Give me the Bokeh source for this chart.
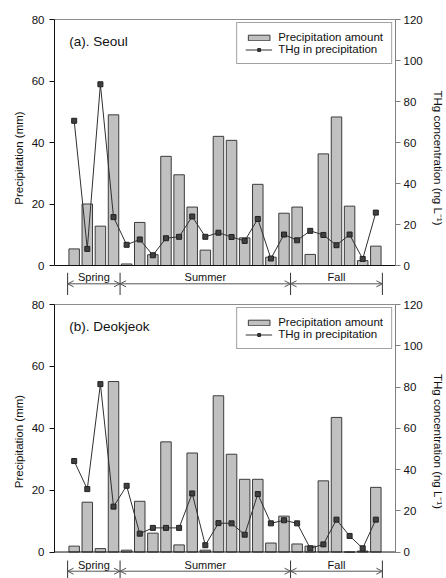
import numpy as np
from bokeh.plotting import figure
from bokeh.models import (LinearAxis, Range1d, FixedTicker, Span, Label, Arrow,
                          OpenHead, Legend, LegendItem)
from bokeh.layouts import column
from bokeh.embed import file_html
from bokeh.resources import INLINE

# ---------------- data ----------------
samples = list(range(1, 25))

seoul_precip = [5.4, 20.0, 12.8, 49.0, 0.5, 14.0, 3.5, 35.5, 29.5, 19.0, 5.0, 42.0,
                40.7, 9.0, 26.4, 2.7, 17.0, 19.0, 3.6, 36.3, 48.3, 19.3, 1.6, 6.3]
seoul_thg = [70.6, 8.1, 88.4, 23.6, 10.1, 12.7, 5.0, 13.3, 14.0, 23.9, 14.0, 16.0,
             13.9, 12.0, 22.7, 3.4, 15.1, 12.3, 16.9, 14.9, 9.9, 15.1, 3.2, 25.8]

deok_precip = [1.9, 16.1, 1.1, 55.1, 0.6, 16.4, 6.1, 35.6, 2.3, 32.0, 0.6, 50.5,
               31.6, 23.5, 23.5, 2.9, 11.6, 2.6, 1.9, 23.0, 43.5, 0.0, 0.3, 20.9]
deok_thg = [44.1, 30.5, 81.4, 22.0, 32.1, 8.9, 11.7, 11.7, 11.7, 28.4, 3.3, 14.0,
            13.9, 8.4, 28.1, 13.9, 15.4, 13.9, 1.8, 3.7, 15.7, 7.8, 1.8, 15.7]

season_names = ["Spring", "Summer", "Fall"]
season_counts = [4, 13, 7]

left_ticks = [0, 20, 40, 60, 80]
right_ticks = [0, 20, 40, 60, 80, 100, 120]

FONT = "Liberation Sans"
W = 446


def make_panel(title, precip, thg, height, border_top, y_bottom,
               v_top, v_bot, arrow_y, text_y):
    p = figure(width=W, height=height, output_backend="svg", toolbar_location=None,
               x_range=Range1d(-0.5, 25.5), y_range=Range1d(y_bottom, 80),
               x_axis_location=None, y_axis_location=None,
               min_border_left=54, min_border_right=47,
               min_border_top=border_top, min_border_bottom=0)
    p.outline_line_color = None
    p.grid.visible = False
    p.background_fill_color = "white"
    p.extra_y_ranges = {"thg": Range1d(y_bottom * 1.5, 120)}

    # left axis
    ya = LinearAxis(ticker=FixedTicker(ticks=left_ticks), bounds=(0, 80),
                    axis_label="Precipitation (mm)")
    ya.major_tick_out = 5
    ya.major_tick_in = 0
    ya.minor_tick_out = 0
    ya.minor_tick_in = 0
    ya.axis_line_color = "#111111"
    ya.major_tick_line_color = "#111111"
    ya.major_label_text_font = FONT
    ya.major_label_text_font_size = "11.5px"
    ya.major_label_text_color = "#111111"
    ya.major_label_standoff = 5
    ya.axis_label_text_font = FONT
    ya.axis_label_text_font_size = "11.5px"
    ya.axis_label_text_font_style = "normal"
    ya.axis_label_text_color = "#111111"
    ya.axis_label_standoff = 4
    p.add_layout(ya, "left")

    # right axis
    yr = LinearAxis(y_range_name="thg", ticker=FixedTicker(ticks=right_ticks),
                    bounds=(0, 120), axis_label="THg concentration (ng L\u207b\u00b9)")
    yr.major_tick_out = 5
    yr.major_tick_in = 0
    yr.minor_tick_out = 0
    yr.minor_tick_in = 0
    yr.axis_line_color = "#808080"
    yr.major_tick_line_color = "#808080"
    yr.major_label_text_font = FONT
    yr.major_label_text_font_size = "11.5px"
    yr.major_label_text_color = "#111111"
    yr.major_label_standoff = 3
    yr.axis_label_text_font = FONT
    yr.axis_label_text_font_size = "11.5px"
    yr.axis_label_text_font_style = "normal"
    yr.axis_label_text_color = "#111111"
    yr.axis_label_standoff = 6
    p.add_layout(yr, "right")

    # top frame line
    xt = LinearAxis(ticker=FixedTicker(ticks=[]))
    xt.axis_line_color = "#8c8c8c"
    xt.major_tick_out = 0
    xt.major_tick_in = 0
    xt.minor_tick_out = 0
    xt.minor_tick_in = 0
    p.add_layout(xt, "above")

    # bottom base line
    p.add_layout(Span(location=0, dimension="width", line_color="#111111", line_width=1))

    bars = p.vbar(x=samples, top=precip, width=0.8, bottom=0,
                  fill_color="#c0c0c0", line_color="#3c3c3c", line_width=1)
    line_r = p.line(samples, thg, y_range_name="thg", line_color="#303030", line_width=1)
    pts_r = p.scatter(samples, thg, y_range_name="thg", marker="square", size=5,
                      fill_color="#404040", line_color="#202020", line_width=1)

    legend = Legend(items=[LegendItem(label="Precipitation amount", renderers=[bars]),
                           LegendItem(label="THg in precipitation", renderers=[line_r, pts_r])],
                    location="top_right", margin=3, padding=8, spacing=0,
                    glyph_width=27, glyph_height=7, label_height=7, label_standoff=6,
                    label_text_font=FONT, label_text_font_size="11.5px",
                    label_text_color="#111111",
                    border_line_color="#444444", border_line_width=1,
                    background_fill_color="white", background_fill_alpha=1)
    p.add_layout(legend)

    p.add_layout(Label(x=0.63, y=73.0, text=title, text_font=FONT, text_font_size="13.5px",
                       text_align="left", text_baseline="middle", text_color="#111111"))

    # season brackets
    edges = np.concatenate([[0.5], 0.5 + np.cumsum(season_counts)])
    p.segment(x0=edges, y0=[v_top] * len(edges), x1=edges, y1=[v_bot] * len(edges),
              line_color="#333333", line_width=1)
    for i, name in enumerate(season_names):
        p.add_layout(Arrow(start=OpenHead(size=6, line_color="#555555", line_width=1),
                           end=OpenHead(size=6, line_color="#555555", line_width=1),
                           x_start=edges[i], x_end=edges[i + 1],
                           y_start=arrow_y, y_end=arrow_y,
                           line_color="#555555", line_width=1))
        p.add_layout(Label(x=(edges[i] + edges[i + 1]) / 2, y=text_y, text=name,
                           text_font=FONT, text_font_size="11px", text_align="center",
                           text_baseline="middle", text_color="#111111"))
    return p


p1 = make_panel("(a). Seoul", seoul_precip, seoul_thg, height=296, border_top=19,
                y_bottom=-10.08, v_top=-2.37, v_bot=-9.6, arrow_y=-5.95, text_y=-3.74)
p2 = make_panel("(b). Deokjeok", deok_precip, deok_thg, height=282, border_top=8,
                y_bottom=-8.56, v_top=-2.75, v_bot=-9.5, arrow_y=-6.2, text_y=-4.04)

layout = column(p1, p2, spacing=0)
open("out.html", "w").write(file_html(layout, INLINE))
